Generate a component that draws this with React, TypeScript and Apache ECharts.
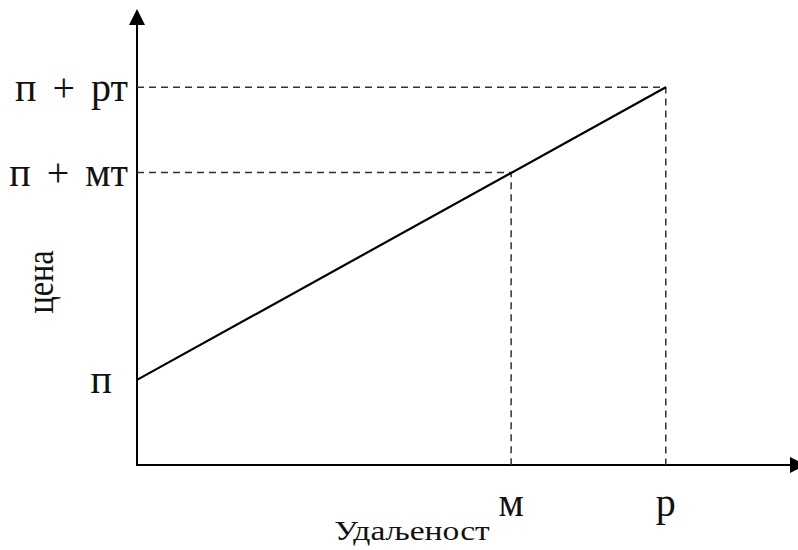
import React, { useEffect, useRef } from "react";
import * as echarts from "echarts";

const xTickValues = [56.6, 80.0];
const xTickLabels = ["м", "р"];
const yTickValues = [19.0, 65.3, 84.3];
const yTickLabels = ["п", "п + мт", "п + рт"];
const priceLine = [
  [0, 19.0],
  [80.0, 84.3],
];
const guideM = [
  [0, 65.3],
  [56.6, 65.3],
  [56.6, 0],
];
const guideR = [
  [0, 84.3],
  [80.0, 84.3],
  [80.0, 0],
];
const xTitle = "Удаљеност";
const yTitle = "цена";

const FONT = "Liberation Serif, Times New Roman, serif";

export default function App() {
  const ref = useRef<HTMLDivElement>(null);
  useEffect(() => {
    if (!ref.current) return;
    const chart = echarts.init(ref.current, null, { renderer: "svg" });
    const dashed = {
      type: "line",
      showSymbol: false,
      symbol: "none",
      silent: true,
      lineStyle: { color: "#333", width: 1.5, type: [7, 5] },
    };
    chart.setOption({
      animation: false,
      backgroundColor: "#fff",
      textStyle: { fontFamily: FONT },
      grid: { left: 137, right: -5, top: 17, bottom: 85 },
      xAxis: {
        type: "value",
        min: 0,
        max: 100,
        splitLine: { show: false },
        axisTick: { show: false },
        axisLine: {
          lineStyle: { color: "#000", width: 2 },
          symbol: ["none", "triangle"],
          symbolSize: [16, 16],
        },
        axisLabel: {
          customValues: xTickValues,
          margin: 17,
          color: "#111",
          fontFamily: FONT,
          fontSize: 40,
          formatter: (v: number) => {
            const i = xTickValues.indexOf(v);
            return i >= 0 ? xTickLabels[i] : "";
          },
        },
      },
      yAxis: {
        type: "value",
        min: 0,
        max: 100,
        splitLine: { show: false },
        axisTick: { show: false },
        axisLine: {
          lineStyle: { color: "#000", width: 2 },
          symbol: ["none", "triangle"],
          symbolSize: [16, 16],
        },
        axisLabel: {
          customValues: yTickValues,
          margin: 9,
          color: "#111",
          fontFamily: FONT,
          fontSize: 40,
          formatter: (v: number) => {
            const i = yTickValues.indexOf(v);
            if (i < 0) return "";
            const s = yTickLabels[i];
            if (i === 0) return `{big|${s}}`;
            const parts = s.split(" ");
            return `{t|${parts[0]}}{p|${parts[1]}}{t|${parts[2]}}`;
          },
          rich: {
            t: { fontSize: 40, fontFamily: FONT, color: "#111" },
            p: { fontSize: 40, fontFamily: FONT, color: "#111", padding: [0, 16, 0, 16] },
            big: { fontSize: 40, fontFamily: FONT, color: "#111", padding: [0, 16, 0, 0] },
          },
        },
      },
      graphic: [
        {
          type: "text",
          x: 412,
          y: 530,
          scaleX: 1.2,
          style: {
            text: xTitle,
            fontFamily: FONT,
            fontSize: 28,
            fill: "#111",
            textAlign: "center",
            textVerticalAlign: "middle",
          },
        },
        {
          type: "text",
          x: 41,
          y: 282,
          rotation: Math.PI / 2,
          scaleX: 0.85,
          style: {
            text: yTitle,
            fontFamily: FONT,
            fontSize: 38,
            fill: "#111",
            textAlign: "center",
            textVerticalAlign: "middle",
          },
        },
      ],
      series: [
        { ...dashed, data: guideR },
        { ...dashed, data: guideM },
        {
          type: "line",
          showSymbol: false,
          symbol: "none",
          data: priceLine,
          lineStyle: { color: "#000", width: 2.2 },
        },
      ],
    });
    return () => chart.dispose();
  }, []);
  return (
    <div
      ref={ref}
      style={{ position: "fixed", left: 0, top: 0, width: 798, height: 550 }}
    />
  );
}
